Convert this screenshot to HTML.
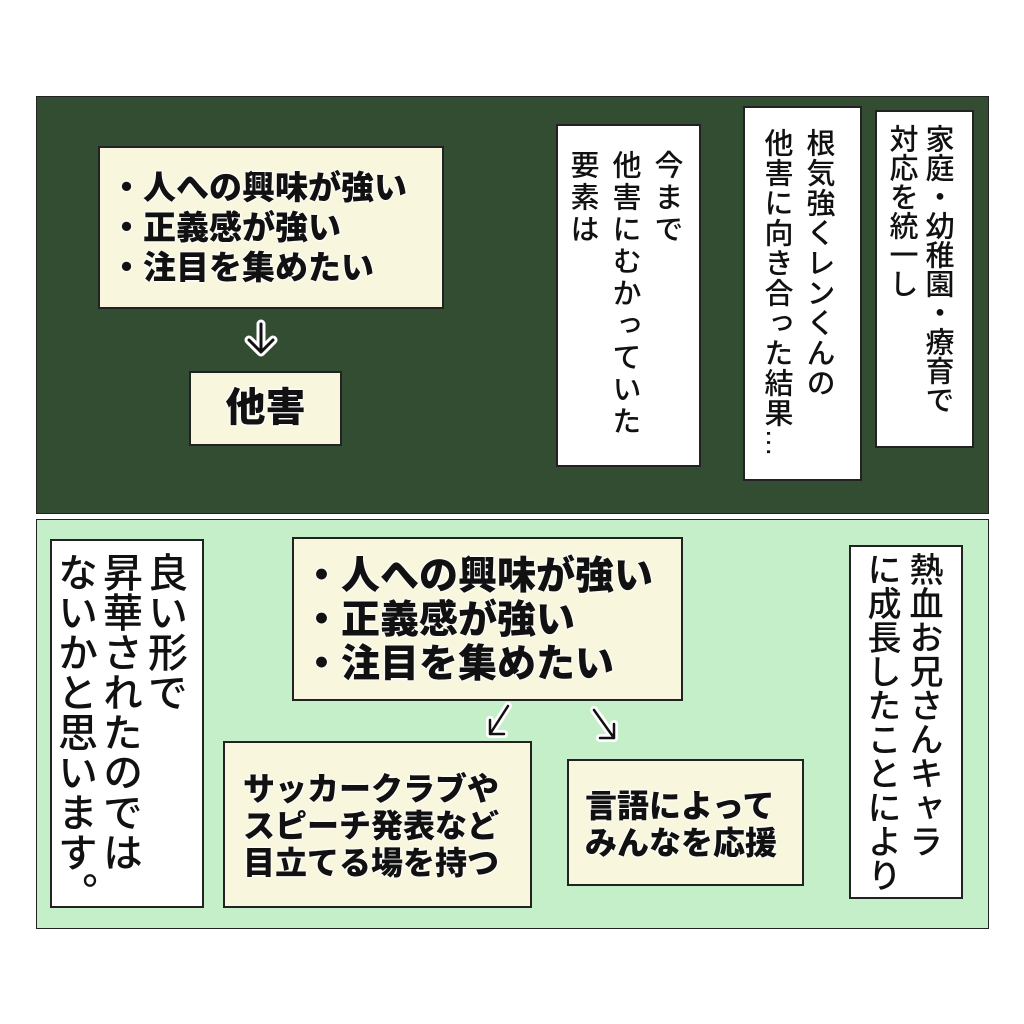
<!DOCTYPE html><html><head><meta charset="utf-8"><style>
body{margin:0;width:1024px;height:1024px;background:#fff;position:relative;overflow:hidden;font-family:"Liberation Sans","Noto Sans CJK JP",sans-serif}
div{position:absolute;box-sizing:border-box}
.p{border:1.5px solid #222}
.b{border:2px solid #222}
.cr{background:#f8f6dc}
.w{background:#fff}
.t{font-weight:900;color:#111;white-space:nowrap;text-shadow:0 0 3px #fff,0 0 3px #fff,0 0 2px #fff}
.v{writing-mode:vertical-rl;color:#111;white-space:nowrap;font-weight:500}
</style></head><body>
<div class="p" style="left:36px;top:96px;width:953px;height:418px;background:#324d31"></div>
<div class="b cr" style="left:98px;top:146px;width:346px;height:163px"></div>
<div class="t" style="left:110px;top:168px;font-size:33px;line-height:40px">・人への興味が強い<br>・正義感が強い<br>・注目を集めたい</div>
<svg style="position:absolute;left:240px;top:318px" width="42" height="42"><path d="M21 6V34M9 22L21 34L33 22" fill="none" stroke="#fff" stroke-width="9" stroke-linecap="round" stroke-linejoin="round"/><path d="M21 6V34M9 22L21 34L33 22" fill="none" stroke="#111" stroke-width="3" stroke-linecap="round" stroke-linejoin="round"/></svg>
<div class="b cr" style="left:189px;top:371px;width:153px;height:75px"></div>
<div class="t" style="left:189px;top:386px;width:153px;text-align:center;font-size:40px;line-height:44px">他害</div>
<div class="b w" style="left:556px;top:124px;width:145px;height:343px"></div>
<div class="v" style="left:557px;top:150px;width:130px;height:300px;font-size:29px;line-height:42px;letter-spacing:3px">今まで<br>他害にむかっていた<br>要素は</div>
<div class="b w" style="left:743px;top:106px;width:119px;height:375px"></div>
<div class="v" style="left:755px;top:128px;width:84px;height:345px;font-size:29px;line-height:42px;letter-spacing:1px">根気強くレンくんの<br>他害に向き合った結果…</div>
<div class="b w" style="left:875px;top:110px;width:99px;height:338px"></div>
<div class="v" style="left:883px;top:124px;width:72px;height:320px;font-size:29px;line-height:36px">家庭・幼稚園・療育で<br>対応を統一し</div>
<div class="p" style="left:36px;top:519px;width:953px;height:410px;background:#c5efc8"></div>
<div class="b w" style="left:50px;top:539px;width:154px;height:369px"></div>
<div class="v" style="left:50px;top:552px;width:136px;height:350px;font-size:40px;line-height:45px">良い形で<br>昇華されたのでは<br>ないかと思います。</div>
<div class="b cr" style="left:292px;top:537px;width:391px;height:164px"></div>
<div class="t" style="left:302px;top:555px;font-size:39px;line-height:44px">・人への興味が強い<br>・正義感が強い<br>・注目を集めたい</div>
<svg style="position:absolute;left:480px;top:700px" width="36" height="42"><path d="M28 6L10 34M10 20V34H24" fill="none" stroke="#fff" stroke-width="8" stroke-linecap="round" stroke-linejoin="round"/><path d="M28 6L10 34M10 20V34H24" fill="none" stroke="#111" stroke-width="2.5" stroke-linecap="round" stroke-linejoin="round"/></svg>
<svg style="position:absolute;left:586px;top:704px" width="40" height="42"><path d="M8 6L28 34M28 20V34H14" fill="none" stroke="#fff" stroke-width="8" stroke-linecap="round" stroke-linejoin="round"/><path d="M8 6L28 34M28 20V34H14" fill="none" stroke="#111" stroke-width="2.5" stroke-linecap="round" stroke-linejoin="round"/></svg>
<div class="b cr" style="left:223px;top:741px;width:309px;height:167px"></div>
<div class="t" style="left:243px;top:771px;font-size:32px;line-height:37px">サッカークラブや<br>スピーチ発表など<br>目立てる場を持つ</div>
<div class="b cr" style="left:567px;top:759px;width:237px;height:127px"></div>
<div class="t" style="left:585px;top:788px;font-size:32px;line-height:37px">言語によって<br>みんなを応援</div>
<div class="b w" style="left:849px;top:545px;width:114px;height:354px"></div>
<div class="v" style="left:856px;top:552px;width:88px;height:340px;font-size:34px;line-height:42px">熱血お兄さんキャラ<br>に成長したことにより</div>
</body></html>
